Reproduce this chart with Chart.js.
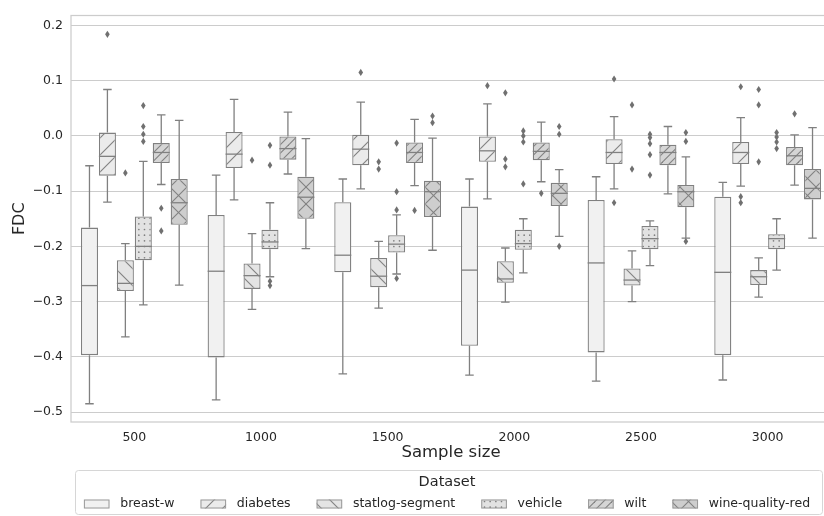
<!DOCTYPE html>
<html>
<head>
<meta charset="utf-8">
<script src="https://cdn.jsdelivr.net/npm/chart.js@4.4.1/dist/chart.umd.min.js"></script>
<style>
html,body{margin:0;padding:0;overflow:hidden;background:#ffffff;width:824px;height:516px}
canvas{display:block}
</style>
</head>
<body>
<canvas id="c" width="840" height="516"></canvas>
<script>
// ---------------- data ----------------
const categories = ['500', '1000', '1500', '2000', '2500', '3000'];
const datasetNames = ['breast-w', 'diabetes', 'statlog-segment', 'vehicle', 'wilt', 'wine-quality-red'];
const yTickValues = [-0.5, -0.4, -0.3, -0.2, -0.1, 0.0, 0.1, 0.2];

// per category: [lower whisker, Q1, median, Q3, upper whisker]
const breastW = [
  [-0.485, -0.397, -0.271, -0.166, -0.054],
  [-0.478, -0.401, -0.245, -0.143, -0.071],
  [-0.431, -0.247, -0.216, -0.120, -0.078],
  [-0.433, -0.380, -0.243, -0.128, -0.078],
  [-0.444, -0.392, -0.230, -0.116, -0.074],
  [-0.442, -0.397, -0.247, -0.110, -0.084]
];
const diabetes = [
  [-0.120, -0.072, -0.037, 0.006, 0.084],
  [-0.116, -0.058, -0.033, 0.007, 0.066],
  [-0.096, -0.053, -0.024, 0.002, 0.061],
  [-0.114, -0.047, -0.027, -0.001, 0.058],
  [-0.096, -0.051, -0.030, -0.006, 0.035],
  [-0.091, -0.051, -0.030, -0.011, 0.033]
];
const statlogSegment = [
  [-0.364, -0.281, -0.267, -0.225, -0.195],
  [-0.314, -0.277, -0.253, -0.231, -0.177],
  [-0.312, -0.274, -0.254, -0.221, -0.191],
  [-0.301, -0.266, -0.259, -0.227, -0.203],
  [-0.300, -0.271, -0.261, -0.240, -0.208],
  [-0.292, -0.270, -0.255, -0.243, -0.221]
];
const vehicle = [
  [-0.306, -0.225, -0.200, -0.146, -0.046],
  [-0.255, -0.205, -0.192, -0.170, -0.121],
  [-0.250, -0.211, -0.196, -0.180, -0.143],
  [-0.248, -0.206, -0.195, -0.170, -0.150],
  [-0.235, -0.205, -0.186, -0.163, -0.154],
  [-0.243, -0.205, -0.186, -0.178, -0.150]
];
const wilt = [
  [-0.088, -0.049, -0.030, -0.013, 0.038],
  [-0.069, -0.043, -0.023, -0.001, 0.043],
  [-0.090, -0.049, -0.030, -0.012, 0.030],
  [-0.083, -0.044, -0.028, -0.012, 0.025],
  [-0.105, -0.053, -0.030, -0.016, 0.017],
  [-0.089, -0.053, -0.036, -0.020, 0.002]
];
const wineQualityRed = [
  [-0.270, -0.161, -0.121, -0.078, 0.028],
  [-0.204, -0.150, -0.111, -0.074, -0.005],
  [-0.207, -0.147, -0.101, -0.081, -0.004],
  [-0.182, -0.127, -0.104, -0.085, -0.061],
  [-0.185, -0.129, -0.101, -0.089, -0.038],
  [-0.185, -0.115, -0.095, -0.060, 0.015]
];

// outliers per category
const breastWOut = [[], [], [], [], [], []];
const diabetesOut = [[0.184], [], [0.115], [0.091], [0.103, -0.121], [0.089, -0.110, -0.121]];
const statlogSegmentOut = [[-0.067], [-0.044], [-0.047, -0.060], [0.078, -0.042, -0.056], [0.056, -0.060], [0.084, 0.056, -0.047]];
const vehicleOut = [[0.055, 0.017, 0.003, -0.010], [-0.017, -0.053, -0.263, -0.271], [-0.013, -0.101, -0.134, -0.258], [0.009, 0.000, -0.011, -0.087], [0.003, -0.003, -0.014, -0.034, -0.071], [0.006, -0.002, -0.011, -0.023]];
const wiltOut = [[-0.131, -0.172], [], [-0.135], [-0.104], [], [0.040]];
const wineQualityRedOut = [[], [], [0.036, 0.024], [0.017, 0.003, -0.200], [0.006, -0.010, -0.191], []];

// ---------------- styles ----------------
const FONT = "'DejaVu Sans', sans-serif";
const TEXT = '#262626';
const GRID = '#cccccc';
const LINE = '#808080';
const FLIER = '#707070';
const fillColors = ['#f1f1f1', '#ebebeb', '#e4e4e4', '#e2e2e2', '#d5d5d5', '#cecece'];
const hatchKinds = ['', '/', '\\', '.', '//', 'x'];

const summaries = [breastW, diabetes, statlogSegment, vehicle, wilt, wineQualityRed];
const outliers = [breastWOut, diabetesOut, statlogSegmentOut, vehicleOut, wiltOut, wineQualityRedOut];

const canvas = document.getElementById('c');
const ctx = canvas.getContext('2d');

function makePattern(kind, bg) {
  const s = 17;
  const t = document.createElement('canvas');
  t.width = s; t.height = s;
  const g = t.getContext('2d');
  g.fillStyle = bg; g.fillRect(0, 0, s, s);
  g.strokeStyle = LINE; g.fillStyle = LINE; g.lineWidth = 1.1;
  const seg = (x1, y1, x2, y2) => { g.beginPath(); g.moveTo(x1, y1); g.lineTo(x2, y2); g.stroke(); };
  const fwd = (offs) => offs.forEach(c => seg(c + 3, -3, c - s - 3, s + 3));   // x + y = c
  const back = (offs) => offs.forEach(c => seg(c - 3, -3, c + s + 3, s + 3));  // x - y = c
  if (kind === '/') fwd([0, s, 2 * s]);
  if (kind === '//') fwd([0, s / 2, s, 1.5 * s, 2 * s]);
  if (kind === '\\') back([-s, 0, s]);
  if (kind === 'x') { fwd([0, s, 2 * s]); back([-s, 0, s]); }
  if (kind === '.') {
    const step = s / 3;
    for (let i = 0; i < 3; i++) for (let j = 0; j < 3; j++) {
      g.beginPath(); g.arc(step / 2 + i * step, step / 2 + j * step, 0.85, 0, Math.PI * 2); g.fill();
    }
  }
  return ctx.createPattern(t, 'repeat');
}

const patterns = hatchKinds.map((k, i) => makePattern(k, fillColors[i]));

const datasets = datasetNames.map((name, i) => ({
  label: name,
  data: summaries[i].map(r => [r[1], r[3]]),
  backgroundColor: patterns[i],
  borderColor: LINE,
  borderWidth: 1.3,
  borderSkipped: false,
  categoryPercentage: 0.85,
  barPercentage: 0.95
}));

function fmtTick(v) {
  const a = Math.abs(v).toFixed(1);
  return (v < -1e-9 ? '\u2212' : '') + a;
}

const boxPlugin = {
  id: 'boxDetails',
  beforeDatasetsDraw(chart) {
    const c = chart.ctx, a = chart.chartArea, ys = chart.scales.y;
    c.save();
    c.strokeStyle = GRID; c.lineWidth = 1.25;
    c.strokeRect(a.left, a.top, a.right - a.left, a.bottom - a.top);
    // whiskers and caps
    c.strokeStyle = LINE; c.lineWidth = 1.3;
    chart.data.datasets.forEach((ds, i) => {
      chart.getDatasetMeta(i).data.forEach((bar, j) => {
        const p = bar.getProps(['x', 'width'], true);
        const st = summaries[i][j];
        const yLo = ys.getPixelForValue(st[0]), yQ1 = ys.getPixelForValue(st[1]);
        const yQ3 = ys.getPixelForValue(st[3]), yHi = ys.getPixelForValue(st[4]);
        const cw = p.width / 4;
        c.beginPath();
        c.moveTo(p.x, yQ1); c.lineTo(p.x, yLo);
        c.moveTo(p.x, yQ3); c.lineTo(p.x, yHi);
        c.moveTo(p.x - cw, yLo); c.lineTo(p.x + cw, yLo);
        c.moveTo(p.x - cw, yHi); c.lineTo(p.x + cw, yHi);
        c.stroke();
      });
    });
    c.restore();
  },
  afterDatasetsDraw(chart) {
    const c = chart.ctx, ys = chart.scales.y;
    c.save();
    chart.data.datasets.forEach((ds, i) => {
      chart.getDatasetMeta(i).data.forEach((bar, j) => {
        const p = bar.getProps(['x', 'width'], true);
        const st = summaries[i][j];
        const yMed = ys.getPixelForValue(st[2]);
        c.strokeStyle = LINE; c.lineWidth = 1.3;
        c.beginPath(); c.moveTo(p.x - p.width / 2, yMed); c.lineTo(p.x + p.width / 2, yMed); c.stroke();
        c.fillStyle = FLIER;
        outliers[i][j].forEach(v => {
          const y = ys.getPixelForValue(v);
          c.beginPath();
          c.moveTo(p.x, y - 3.6); c.lineTo(p.x + 2.3, y); c.lineTo(p.x, y + 3.6); c.lineTo(p.x - 2.3, y);
          c.closePath(); c.fill();
        });
      });
    });
    c.restore();
  },
  afterDraw(chart) {
    // legend (one row, framed, with title)
    const c = chart.ctx;
    const L = 75.5, T = 470.5, R = 822.5, B = 514.5, r = 3;
    c.save();
    c.beginPath();
    c.moveTo(L + r, T); c.lineTo(R - r, T); c.arcTo(R, T, R, T + r, r);
    c.lineTo(R, B - r); c.arcTo(R, B, R - r, B, r);
    c.lineTo(L + r, B); c.arcTo(L, B, L, B - r, r);
    c.lineTo(L, T + r); c.arcTo(L, T, L + r, T, r);
    c.closePath();
    c.fillStyle = 'rgba(255,255,255,0.8)'; c.fill();
    c.strokeStyle = '#d6d6d6'; c.lineWidth = 1; c.stroke();
    const cx = (L + R) / 2 - 2;
    c.fillStyle = TEXT; c.textAlign = 'center'; c.textBaseline = 'middle';
    c.font = "14.5px " + FONT;
    c.fillText('Dataset', cx, 482);
    c.font = "12.5px " + FONT;
    const pw = 25.6, ph = 9, gapPT = 10.7, gapItem = 26, cy = 504;
    const items = chart.data.datasets.map(d => ({ text: d.label, fill: d.backgroundColor, w: c.measureText(d.label).width }));
    const total = items.reduce((s, it) => s + pw + gapPT + it.w, 0) + gapItem * (items.length - 1);
    let x = cx - total / 2;
    c.textAlign = 'left';
    items.forEach(it => {
      c.fillStyle = it.fill;
      c.fillRect(x, cy - ph / 2, pw, ph);
      c.strokeStyle = '#999999'; c.lineWidth = 1;
      c.strokeRect(x + 0.5, cy - ph / 2 + 0.5, pw - 1, ph - 1);
      c.fillStyle = TEXT;
      c.fillText(it.text, x + pw + gapPT, cy);
      x += pw + gapPT + it.w + gapItem;
    });
    c.restore();
  }
};

Chart.defaults.font.family = FONT;
Chart.defaults.color = TEXT;

new Chart(ctx, {
  type: 'bar',
  data: { labels: categories, datasets },
  plugins: [boxPlugin],
  options: {
    responsive: false,
    animation: false,
    events: [],
    layout: { padding: { left: 0, right: 9, top: 5, bottom: 50 } },
    plugins: { legend: { display: false }, tooltip: { enabled: false } },
    scales: {
      x: {
        type: 'category',
        afterFit: s => { s.height = 44; },
        grid: { display: false, drawTicks: false },
        border: { display: false },
        ticks: { padding: 8, color: TEXT, font: { size: 12.5 } },
        title: { display: true, text: 'Sample size', color: TEXT, font: { size: 16.5 }, padding: { top: 0, bottom: 3 } }
      },
      y: {
        min: -0.518,
        max: 0.218,
        afterFit: s => { s.width = 71; },
        afterBuildTicks: s => { s.ticks = yTickValues.map(v => ({ value: v })); },
        grid: { color: GRID, lineWidth: 1.1, drawTicks: false },
        border: { display: false },
        ticks: { padding: 8, color: TEXT, font: { size: 12.5 }, callback: v => fmtTick(v) },
        title: { display: true, text: 'FDC', color: TEXT, font: { size: 16 }, padding: { top: 10.4, bottom: 0 } }
      }
    }
  }
});
</script>
</body>
</html>
